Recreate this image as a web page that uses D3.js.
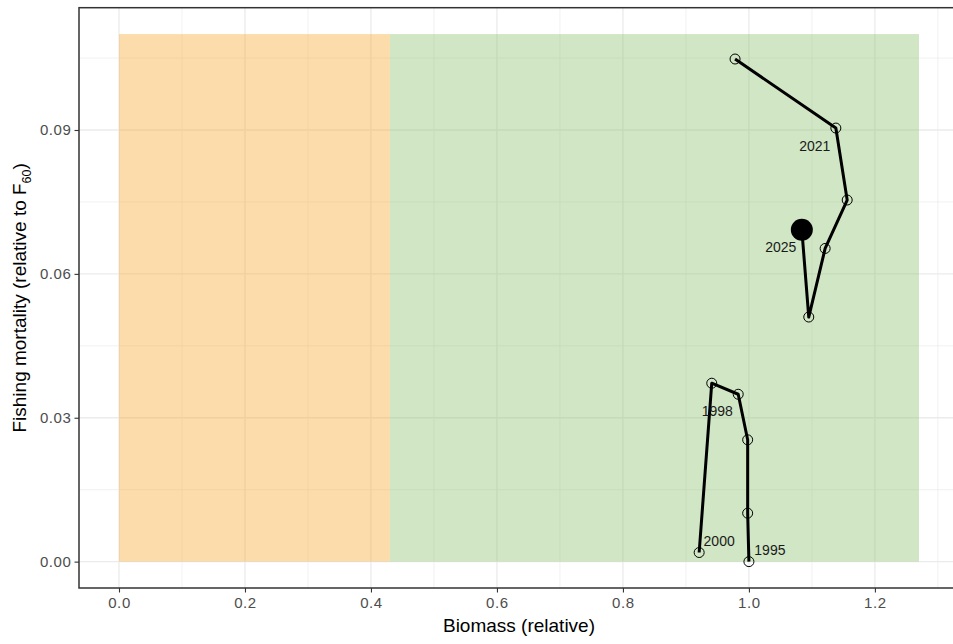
<!DOCTYPE html>
<html>
<head>
<meta charset="utf-8">
<script src="https://cdn.jsdelivr.net/npm/d3@7"></script>
<style>
  html, body { margin: 0; padding: 0; background: #fff; }
  svg { display: block; }
  text { font-family: "Liberation Sans", Arial, sans-serif; }
</style>
</head>
<body>
<svg id="chart" width="953" height="644"></svg>
<script>
// Stock trajectory: relative biomass vs relative fishing mortality by year
const years    = [1995, 1996, 1997, 1998, 1999, 2000, 2020, 2021, 2022, 2023, 2024, 2025];
const biomass  = [1.000, 0.998, 0.998, 0.983, 0.941, 0.921, 0.978, 1.138, 1.156, 1.121, 1.095, 1.084];
const fishingF = [0.0000, 0.0101, 0.0254, 0.0349, 0.0372, 0.0019, 0.1048, 0.0904, 0.0754, 0.0653, 0.0510, 0.0692];
const labelledYears = [1995, 1998, 2000, 2021, 2025];

// Status zones (biomass limits; F band spans 0 to fMax)
const zoneBreaks = [0, 0.43, 1.27];
const zoneFill   = ["#F8A82B", "#8AC06C"];
const fMax = 0.11;

const xTicks = [0, 0.2, 0.4, 0.6, 0.8, 1.0, 1.2];
const xMinor = [0.1, 0.3, 0.5, 0.7, 0.9, 1.1, 1.3];
const yTicks = [0, 0.03, 0.06, 0.09];
const yMinor = [0.015, 0.045, 0.075, 0.105];

const svg = d3.select("#chart");
const panel = { left: 79, top: 7.7, right: 959, bottom: 588 };

// ggplot-style 5% expansion around the zone extents
const xPad = (zoneBreaks[2] - zoneBreaks[0]) * 0.05;
const yPad = fMax * 0.05;
const x = d3.scaleLinear().domain([zoneBreaks[0] - xPad, zoneBreaks[2] + xPad]).range([panel.left, panel.right]);
const y = d3.scaleLinear().domain([-yPad, fMax + yPad]).range([panel.bottom, panel.top]);

const rows = years.map((yr, i) => ({ year: yr, b: biomass[i], f: fishingF[i] }));

// grid
const grid = svg.append("g");
grid.selectAll(".vminor").data(xMinor).join("line")
  .attr("x1", d => x(d)).attr("x2", d => x(d)).attr("y1", panel.top).attr("y2", panel.bottom)
  .attr("stroke", "#EBEBEB").attr("stroke-width", 0.7);
grid.selectAll(".hminor").data(yMinor).join("line")
  .attr("y1", d => y(d)).attr("y2", d => y(d)).attr("x1", panel.left).attr("x2", panel.right)
  .attr("stroke", "#EBEBEB").attr("stroke-width", 0.7);
grid.selectAll(".vmajor").data(xTicks).join("line")
  .attr("x1", d => x(d)).attr("x2", d => x(d)).attr("y1", panel.top).attr("y2", panel.bottom)
  .attr("stroke", "#EBEBEB").attr("stroke-width", 1.3);
grid.selectAll(".hmajor").data(yTicks).join("line")
  .attr("y1", d => y(d)).attr("y2", d => y(d)).attr("x1", panel.left).attr("x2", panel.right)
  .attr("stroke", "#EBEBEB").attr("stroke-width", 1.3);

// zones
svg.append("g").selectAll("rect").data(zoneFill).join("rect")
  .attr("x", (d, i) => x(zoneBreaks[i]))
  .attr("width", (d, i) => x(zoneBreaks[i + 1]) - x(zoneBreaks[i]))
  .attr("y", y(fMax)).attr("height", y(0) - y(fMax))
  .attr("fill", d => d).attr("fill-opacity", 0.4);

// trajectory lines, split where years are not consecutive
const segments = [];
rows.forEach((r, i) => {
  if (i === 0 || r.year !== rows[i - 1].year + 1) segments.push([]);
  segments[segments.length - 1].push(r);
});
const line = d3.line().x(d => x(d.b)).y(d => y(d.f));
svg.append("g").selectAll("path").data(segments).join("path")
  .attr("d", line).attr("fill", "none").attr("stroke", "#000")
  .attr("stroke-width", 3).attr("stroke-linejoin", "round");

// yearly points
svg.append("g").selectAll("circle").data(rows.slice(0, -1)).join("circle")
  .attr("cx", d => x(d.b)).attr("cy", d => y(d.f)).attr("r", 5)
  .attr("fill", "none").attr("stroke", "#000").attr("stroke-width", 1);

// latest year emphasised
const last = rows[rows.length - 1];
svg.append("circle").attr("cx", x(last.b)).attr("cy", y(last.f)).attr("r", 11).attr("fill", "#000");

// year labels
const nudge = { 1995: [21, -7], 1998: [-21, 22], 2000: [20, -7], 2021: [-21, 23], 2025: [-21, 22] };
svg.append("g").selectAll("text").data(rows.filter(d => labelledYears.includes(d.year))).join("text")
  .attr("x", d => x(d.b) + nudge[d.year][0]).attr("y", d => y(d.f) + nudge[d.year][1])
  .attr("text-anchor", "middle").attr("font-size", 14).attr("fill", "#1a1a1a")
  .text(d => d.year);

// panel border
svg.append("rect").attr("x", panel.left).attr("y", panel.top)
  .attr("width", panel.right - panel.left).attr("height", panel.bottom - panel.top)
  .attr("fill", "none").attr("stroke", "#333").attr("stroke-width", 1.5);

// axes
const xAxis = svg.append("g").attr("transform", `translate(0,${panel.bottom})`)
  .call(d3.axisBottom(x).tickValues(xTicks).tickFormat(d3.format(".1f")).tickSize(4.5).tickPadding(5));
const yAxis = svg.append("g").attr("transform", `translate(${panel.left},0)`)
  .call(d3.axisLeft(y).tickValues(yTicks).tickFormat(d3.format(".2f")).tickSize(4.5).tickPadding(3));
[xAxis, yAxis].forEach(a => {
  a.select(".domain").remove();
  a.selectAll(".tick line").attr("stroke", "#333").attr("stroke-width", 1.1);
  a.selectAll(".tick text").attr("fill", "#4D4D4D").attr("font-size", 15)
    .attr("letter-spacing", 0.6)
    .attr("font-family", "Liberation Sans, Arial, sans-serif");
});

// axis titles
svg.append("text").attr("x", (panel.left + panel.right) / 2).attr("y", 632)
  .attr("text-anchor", "middle").attr("font-size", 19).attr("fill", "#000")
  .text("Biomass (relative)");
const yt = svg.append("text")
  .attr("transform", `translate(26,${(panel.top + panel.bottom) / 2}) rotate(-90)`)
  .attr("text-anchor", "middle").attr("font-size", 19).attr("fill", "#000");
yt.append("tspan").text("Fishing mortality (relative to F");
yt.append("tspan").attr("font-size", 12.5).attr("dy", 5).text("60");
yt.append("tspan").attr("dy", -5).text(")");
</script>
</body>
</html>
